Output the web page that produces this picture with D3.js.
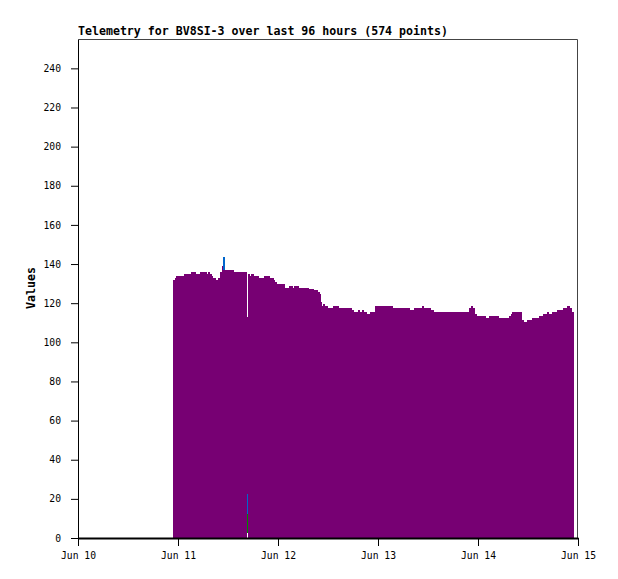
<!DOCTYPE html>
<html>
  <head>
    <meta charset="utf-8">
    <title>Telemetry for BV8SI-3</title>
    <style>
      body { margin: 0; background: #fff; }
      text { font-family: "DejaVu Sans Mono", monospace; }
    </style>
  </head>
  <body>
    <div id="container"></div>
    <script src="https://d3js.org/d3.v7.min.js"></script>
    <script>

      // DATA (hours since Jun 10 00:00, values held until the next time)
      var titleText = "Telemetry for BV8SI-3 over last 96 hours (574 points)";
      var tickDays = ["Jun 10", "Jun 11", "Jun 12", "Jun 13", "Jun 14", "Jun 15"];
      var yTicks = [0, 20, 40, 60, 80, 100, 120, 140, 160, 180, 200, 220, 240];
      var endHour = 119.0;

      var mainTimes = [22.8, 23.3, 23.5, 25.4, 27.1, 28.3, 29.3, 31.0, 31.2, 31.7, 32.2, 32.4, 33.1, 33.6,
        34.1, 34.6, 34.8, 37.4, 40.6, 40.8, 41.3, 41.5, 42.2, 43.4, 44.6, 46.1, 47.0, 47.3, 47.8,
        49.7, 50.6, 51.6, 51.8, 53.0, 55.4, 56.6, 57.6, 58.1, 58.3, 58.6, 58.8, 59.3, 60.0, 61.2,
        62.6, 65.8, 66.2, 67.2, 67.7, 68.2, 68.6, 69.4, 70.1, 71.3, 75.6, 79.7, 80.6, 82.6, 83.0,
        84.7, 85.4, 93.8, 94.3, 94.8, 95.3, 95.8, 97.9, 98.6, 101.0, 103.4, 103.9, 104.2, 106.6,
        107.0, 107.8, 109.0, 110.6, 111.6, 112.6, 113.0, 113.8, 115.0, 116.4, 117.4, 118.1, 118.6];
      var mainValues = [132, 133, 134, 135, 136, 135, 136, 135, 136, 135, 134, 133, 132, 133,
        136, 139, 137, 136, null, 135, 134, 135, 134, 133, 134, 133, 132, 131, 130,
        128, 129, 128, 129, 128, 127.5, 126.5, 125.5, 124.5, 120.5, 118.5, 119.5, 118.5, 117.5, 118.5,
        117.5, 116.5, 115.5, 116.5, 115.5, 116.5, 115.5, 114.5, 115.5, 118.5, 117.5, 116.5, 117.5, 118.5, 117.5,
        116.5, 115.5, 117.5, 118.5, 117.5, 114.5, 113.5, 112.5, 113.5, 112.5, 113.5, 114.5, 115.5, 111.5,
        110.5, 111.5, 112.5, 113.5, 114.5, 115.5, 114.5, 115.5, 116.5, 117.5, 118.5, 117.5, 115.5];

      // other channels, only where they show from behind the main one
      var ch2Start = [40.6], ch2End = [40.8], ch2Values = [113];
      var ch3Start = [34.8, 40.6], ch3End = [35.3, 40.8], ch3Values = [143.5, 22.5];
      var ch4Start = [40.6], ch4End = [40.8], ch4Values = [12.5];
      var ch5Start = [40.6], ch5End = [40.8], ch5Values = [2.5];

      // DIMENSIONS
      var W = 618, H = 579;
      var margin = { top: 39, right: 40, bottom: 41, left: 78 },
        width = W - margin.left - margin.right,
        height = H - margin.top - margin.bottom;

      var svg = d3.select("#container")
        .append("svg")
        .attr("width", W)
        .attr("height", H);

      var g = svg.append("g")
        .attr("transform", "translate(" + margin.left + "," + margin.top + ")");

      var x = d3.scaleLinear().domain([0, 120]).range([0, width]);
      var y = d3.scaleLinear().domain([0, 255]).range([height, 0]);

      // STEP BARS
      function drawSteps(starts, ends, values, color) {
        var rows = starts.map((s, i) => ({ s: s, e: ends[i], v: values[i] }))
          .filter(d => d.v != null);
        g.append("g").selectAll("rect")
          .data(rows)
          .enter()
          .append("rect")
          .attr("x", d => x(d.s))
          .attr("width", d => x(d.e) - x(d.s))
          .attr("y", d => y(d.v))
          .attr("height", d => y(0) - y(d.v))
          .attr("fill", color)
          .attr("shape-rendering", "crispEdges");
      }

      drawSteps(ch2Start, ch2End, ch2Values, "#770073");
      drawSteps(ch3Start, ch3End, ch3Values, "#0066cc");
      drawSteps(ch4Start, ch4End, ch4Values, "#008800");
      drawSteps(ch5Start, ch5End, ch5Values, "#ffffff");
      drawSteps(mainTimes, mainTimes.slice(1).concat([endHour]), mainValues, "#770073");

      // FRAME
      g.append("path")
        .attr("d", "M0.5,0.5H" + (width - 0.5) + "V" + height)
        .attr("fill", "none")
        .attr("stroke", "#444");

      // AXES
      g.append("g")
        .call(d3.axisLeft(y).tickValues(yTicks).tickSize(7).tickSizeOuter(0).tickPadding(10));
      var xAxis = g.append("g")
        .attr("transform", "translate(0," + height + ")")
        .call(d3.axisBottom(x).tickValues(d3.range(0, 121, 24)).tickSize(8).tickSizeOuter(0).tickPadding(6)
          .tickFormat((d, i) => tickDays[i]));
      xAxis.select(".domain").attr("stroke-width", 2);

      svg.selectAll(".tick text")
        .attr("font-family", "DejaVu Sans Mono, monospace")
        .attr("font-size", "9.7px")
        .attr("fill", "#000");
      svg.selectAll(".domain, .tick line").attr("stroke", "#000");

      // TITLE & LABEL
      svg.append("text")
        .attr("x", margin.left)
        .attr("y", 35)
        .attr("font-size", "11.6px")
        .attr("font-weight", "bold")
        .text(titleText);

      svg.append("text")
        .attr("transform", "translate(35,288) rotate(-90)")
        .attr("text-anchor", "middle")
        .attr("font-size", "11.6px")
        .attr("font-weight", "bold")
        .text("Values");

    </script>
  </body>
</html>
